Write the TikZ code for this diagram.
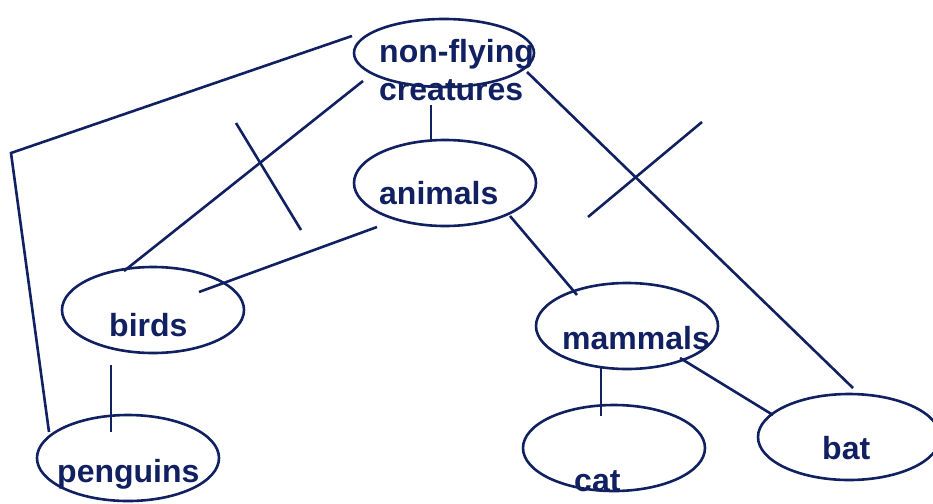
\documentclass[tikz,border=0pt]{standalone}
\usepackage{fontspec}
\setmainfont{Liberation Sans}
\usetikzlibrary{shapes.geometric,calc}
\definecolor{navy}{RGB}{17,32,96}
\tikzset{
  oval/.style={ellipse, draw=navy, line width=2.6pt, inner sep=0pt, minimum width=182pt, minimum height=86pt},
  lbl/.style={anchor=base west, inner sep=0pt, text=navy, font=\fontsize{32}{34}\selectfont\bfseries},
  link/.style={draw=navy, line width=2.6pt}
}
\begin{document}
\begin{tikzpicture}[x=1pt,y=-1pt]
\useasboundingbox (0,0) rectangle (933,503);
% ellipses
\node[oval, minimum width=180pt, minimum height=68pt] (nf) at (444,53) {};
\node[oval] (an) at (445,183) {};
\node[oval] (bi) at (153,310) {};
\node[oval] (pe) at (128,458) {};
\node[oval] (ma) at (627,326) {};
\node[oval] (ca) at (614,448) {};
\node[oval] (ba) at (849,437) {};
% labels
\node[lbl] (nft1) at (379,63) {non-flying};
\node[lbl] (nft2) at (379,100) {creatures};
\node[lbl] (ant) at (379,204) {animals};
\node[lbl] (bit) at (109,336) {birds};
\node[lbl] (pet) at (57,482) {penguins};
\node[lbl] (mat) at (562,349) {mammals};
\node[lbl] (cat) at (574,491) {cat};
\node[lbl] (bat) at (822,459) {bat};
% connector points
\coordinate (c1) at (11,153);
\coordinate (x1a) at (236,123);
\coordinate (x1b) at (301,230);
\coordinate (x2a) at (702,122);
\coordinate (x2b) at (588,217);
% connectors
\draw[link] ($(nf)+(-92,-17)$) -- (c1) -- ($(pe)+(-79,-26)$);
\draw[link] ($(nf)+(-81,28)$) -- ($(bi)+(-29,-39)$);
\draw[link] (x1a) -- (x1b);
\draw[link] ($(nf)+(-13,52)$) -- ($(an)+(-14,-43)$);
\draw[link] ($(an)+(-68,44)$) -- ($(bi)+(46,-18)$);
\draw[link] ($(an)+(65,33)$) -- ($(ma)+(-50,-31)$);
\draw[link] ($(nf)+(83,19)$) -- ($(ba)+(4,-49)$);
\draw[link] (x2a) -- (x2b);
\draw[link] ($(bi)+(-42,55)$) -- ($(pe)+(-17,-26)$);
\draw[link] ($(ma)+(-26,42)$) -- ($(ca)+(-13,-32)$);
\draw[link] ($(ma)+(53,32)$) -- ($(ba)+(-76,-22)$);
\end{tikzpicture}
\end{document}
